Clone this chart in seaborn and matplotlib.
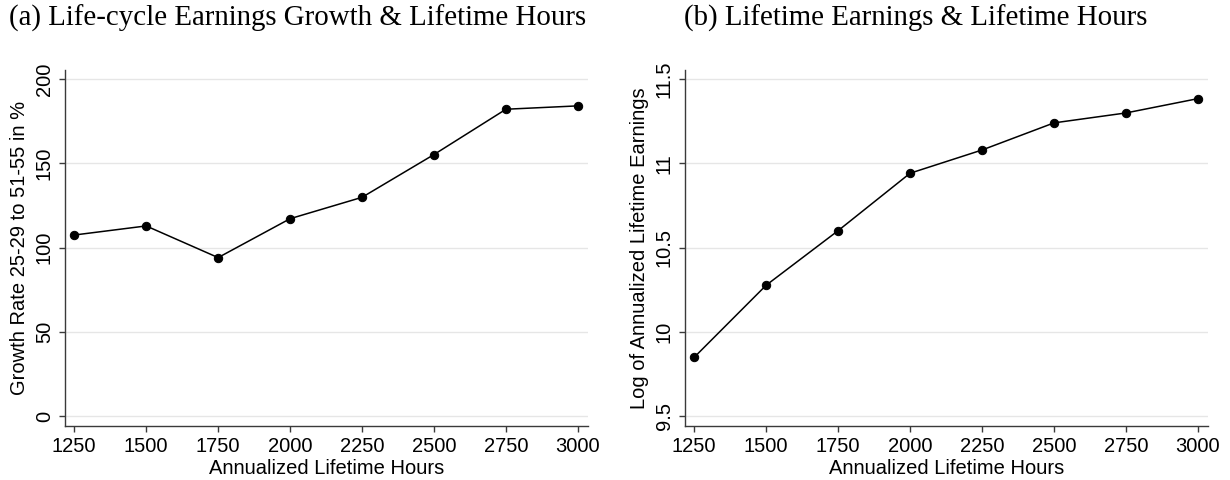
import matplotlib
matplotlib.use("Agg")
import matplotlib.pyplot as plt
import seaborn as sns
import pandas as pd

# ---- data ----
hours = [1250, 1500, 1750, 2000, 2250, 2500, 2750, 3000]
growth_rate = [107.5, 112.9, 94.1, 117.2, 129.9, 155.3, 182.2, 184.2]
log_earnings = [9.849, 10.277, 10.601, 10.942, 11.080, 11.241, 11.300, 11.385]

x_ticks = [1250, 1500, 1750, 2000, 2250, 2500, 2750, 3000]
y_ticks_a = [0, 50, 100, 150, 200]
y_ticklabels_a = ["0", "50", "100", "150", "200"]
y_ticks_b = [9.5, 10, 10.5, 11, 11.5]
y_ticklabels_b = ["9.5", "10", "10.5", "11", "11.5"]

title_a = "(a) Life-cycle Earnings Growth & Lifetime Hours"
title_b = "(b) Lifetime Earnings & Lifetime Hours"
xlabel = "Annualized Lifetime Hours"
ylabel_a = "Growth Rate 25-29 to 51-55 in %"
ylabel_b = "Log of Annualized Lifetime Earnings"

sns.set_theme(style="white")
plt.rcParams["font.family"] = ["Liberation Sans", "DejaVu Sans"]
plt.rcParams["text.color"] = "black"
plt.rcParams["axes.labelcolor"] = "black"
plt.rcParams["xtick.color"] = "black"
plt.rcParams["ytick.color"] = "black"

df_a = pd.DataFrame({"hours": hours, "value": growth_rate})
df_b = pd.DataFrame({"hours": hours, "value": log_earnings})

fig = plt.figure(figsize=(12.3, 4.8), dpi=100)
ax_a = fig.add_axes([65 / 1230, 1 - 426 / 480, 523 / 1230, 356 / 480])
ax_b = fig.add_axes([685 / 1230, 1 - 426 / 480, 523 / 1230, 356 / 480])

spine_col = "#3a3a3a"
grid_col = "#e6e6e6"


def style(ax, df, yticks, yticklabels, ylim, ylabel):
    for yv in yticks:
        ax.axhline(yv, color=grid_col, lw=1.0, zorder=0)
    sns.lineplot(data=df, x="hours", y="value", ax=ax, color="black",
                 lw=1.1, marker="o", markersize=6, markeredgecolor="black",
                 markerfacecolor="black", zorder=3)
    ax.set_xlim(1218, 3035)
    ax.set_ylim(*ylim)
    ax.set_xticks(x_ticks)
    ax.set_xticklabels([str(v) for v in x_ticks], fontsize=14.5, color="black")
    ax.set_yticks(yticks)
    ax.set_yticklabels(yticklabels, fontsize=14.5, rotation=90, va="center",
                       color="black")
    ax.tick_params(axis="both", which="major", direction="out", length=4.5,
                   width=1.0, color=spine_col, pad=3.5, bottom=True, left=True)
    for s in ["top", "right"]:
        ax.spines[s].set_visible(False)
    for s in ["left", "bottom"]:
        ax.spines[s].set_color(spine_col)
        ax.spines[s].set_linewidth(1.0)
    ax.set_xlabel(xlabel, fontsize=14.5, labelpad=2, color="black")
    ax.set_ylabel(ylabel, fontsize=14.5, labelpad=4, color="black")
    ax.grid(False)


style(ax_a, df_a, y_ticks_a, y_ticklabels_a, (-5.9, 205.5), ylabel_a)
style(ax_b, df_b, y_ticks_b, y_ticklabels_b, (9.441, 11.555), ylabel_b)

fig.text(298 / 1230, 1 - 18.5 / 480, title_a, ha="center", va="center",
         fontsize=20.8, color="black", family=["Liberation Serif", "DejaVu Serif"])
fig.text(916 / 1230, 1 - 18.5 / 480, title_b, ha="center", va="center",
         fontsize=20.8, color="black", family=["Liberation Serif", "DejaVu Serif"])

fig.savefig("out.png", dpi=100, facecolor="white")
